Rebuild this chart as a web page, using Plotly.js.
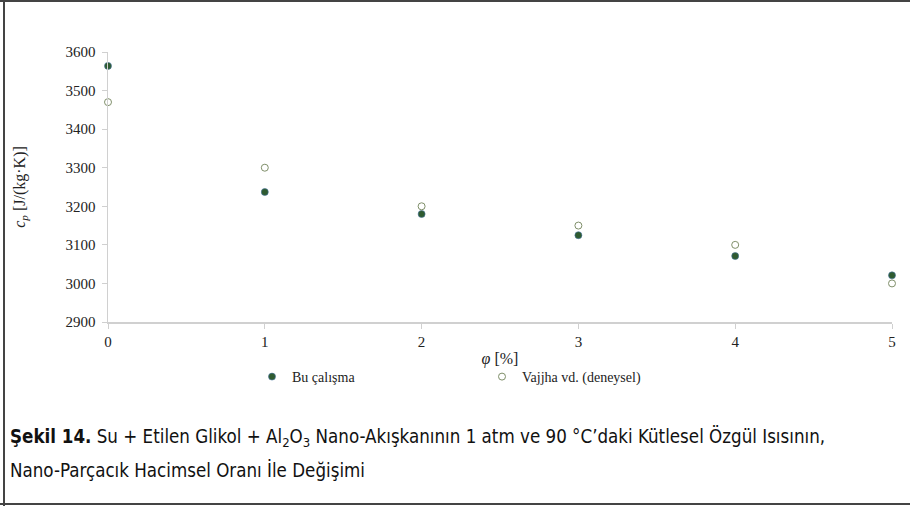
<!DOCTYPE html>
<html>
<head>
<meta charset="utf-8">
<script src="https://cdn.plot.ly/plotly-3.0.1.min.js"></script>
<style>
html,body{margin:0;padding:0;background:#fff;}
#chart{width:910px;height:506px;}
</style>
</head>
<body>
<div id="chart"></div>
<script>
const phi = [0, 1, 2, 3, 4, 5];
const cpThisStudy = [3564, 3237, 3180, 3125, 3071, 3021];
const cpVajjha = [3470, 3300, 3200, 3150, 3100, 3000];
const xTicks = [0, 1, 2, 3, 4, 5];
const yTicks = [2900, 3000, 3100, 3200, 3300, 3400, 3500, 3600];
const seriesNames = ['Bu çalışma', 'Vajjha vd. (deneysel)'];

const W = 910, H = 506;
const mL = 108, mR = 18, mT = 52, mB = 184;
const pw = W - mL - mR, ph = H - mT - mB;
const px = v => (v - mL) / pw;
const py = v => (H - mB - v) / ph;

const serif = 'Liberation Serif';
const narrow = '"DejaVu Sans Condensed", "Liberation Sans Narrow", sans-serif';

const traces = [
  {
    x: phi, y: cpThisStudy, type: 'scatter', mode: 'markers', name: seriesNames[0],
    marker: {size: 7, color: '#2f5b30', line: {color: '#41719c', width: 0.6}},
    cliponaxis: false
  },
  {
    x: phi, y: cpVajjha, type: 'scatter', mode: 'markers', name: seriesNames[1],
    marker: {size: 7, color: '#ffffff', line: {color: '#7f8f6a', width: 1}},
    cliponaxis: false
  }
];

const layout = {
  width: W, height: H,
  margin: {l: mL, r: mR, t: mT, b: mB, pad: 0},
  paper_bgcolor: '#ffffff', plot_bgcolor: '#ffffff',
  showlegend: true,
  font: {family: serif, size: 14, color: '#222'},
  xaxis: {
    range: [0, 5], tickmode: 'array', tickvals: xTicks, ticktext: xTicks.map(String),
    showgrid: false, zeroline: false, showline: true, linecolor: '#d0d0d0', linewidth: 1.5,
    ticks: 'outside', ticklen: 5, tickcolor: '#d0d0d0', tickwidth: 1,
    tickfont: {family: serif, size: 15, color: '#222'},
    title: {text: '<i>φ</i> [%]', font: {family: serif, size: 16, color: '#222'}, standoff: 4}
  },
  yaxis: {
    range: [2900, 3600], tickmode: 'array', tickvals: yTicks, ticktext: yTicks.map(String),
    showgrid: false, zeroline: false, showline: true, linecolor: '#d0d0d0', linewidth: 1.5,
    ticks: 'outside', ticklen: 5, tickcolor: '#d0d0d0', tickwidth: 1, ticklabelstandoff: 3,
    tickfont: {family: serif, size: 15, color: '#222'},
    title: {text: '<i>c</i><sub><i>p</i></sub> [J/(kg·K)]', font: {family: serif, size: 16, color: '#222'}, standoff: 36}
  },
  legend: {
    orientation: 'h', x: px(252), xanchor: 'left', y: py(377), yanchor: 'middle',
    entrywidth: 185, entrywidthmode: 'pixels', itemwidth: 30,
    font: {family: serif, size: 14, color: '#222'}, bgcolor: 'rgba(0,0,0,0)'
  },
  annotations: [
    {
      xref: 'paper', yref: 'paper', x: px(8), y: py(437), xanchor: 'left', yanchor: 'middle',
      showarrow: false, align: 'left',
      text: '<b>Şekil 14.</b> Su + Etilen Glikol + Al<sub>2</sub>O<sub>3</sub> Nano-Akışkanının 1 atm ve 90 °C’daki Kütlesel Özgül Isısının,',
      font: {family: narrow, size: 18.6, color: '#111'}
    },
    {
      xref: 'paper', yref: 'paper', x: px(8), y: py(470), xanchor: 'left', yanchor: 'middle',
      showarrow: false, align: 'left',
      text: 'Nano-Parçacık Hacimsel Oranı İle Değişimi',
      font: {family: narrow, size: 18.6, color: '#111'}
    }
  ],
  shapes: [
    {type: 'line', xref: 'paper', yref: 'paper', x0: px(0), x1: px(910), y0: py(1), y1: py(1), line: {color: '#444', width: 2}},
    {type: 'line', xref: 'paper', yref: 'paper', x0: px(0), x1: px(910), y0: py(504), y1: py(504), line: {color: '#444', width: 2}},
    {type: 'line', xref: 'paper', yref: 'paper', x0: px(4), x1: px(4), y0: py(0), y1: py(506), line: {color: '#444', width: 2}}
  ]
};

Plotly.newPlot('chart', traces, layout, {displayModeBar: false, staticPlot: true});
</script>
</body>
</html>
